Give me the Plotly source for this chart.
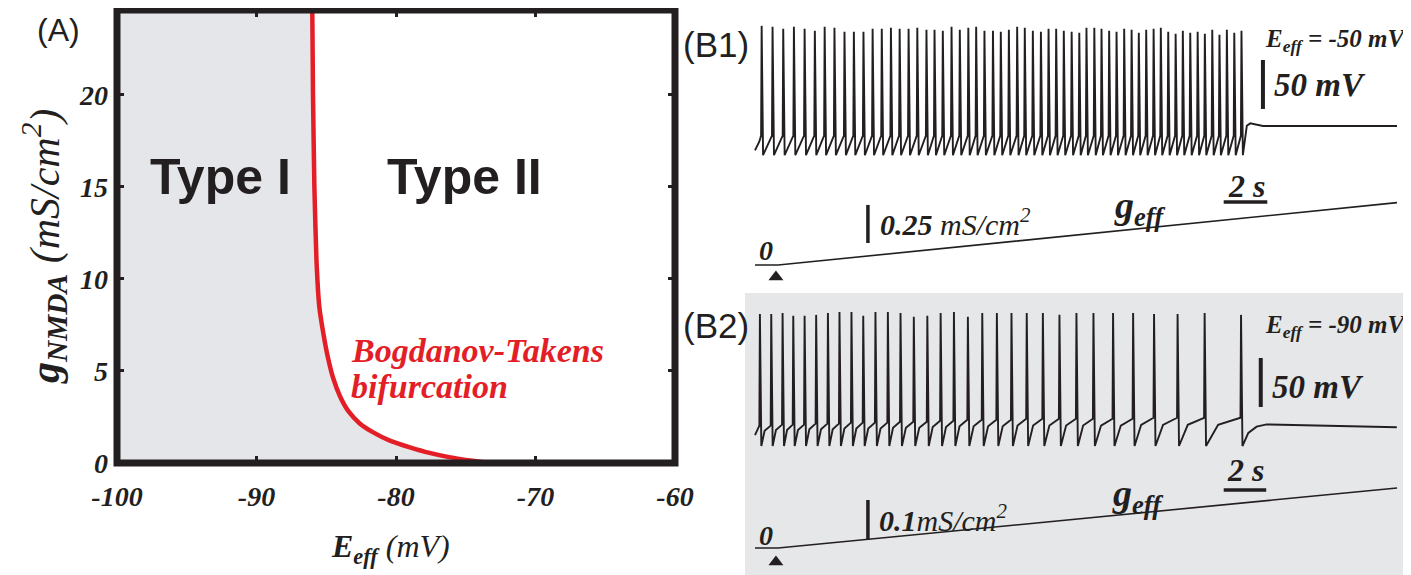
import plotly.graph_objects as go

# The page body has an 8 px default margin, so the figure is drawn 8 px in from the
# top-left corner; positions below are given in window pixels and converted.
OFF = 8
W, H = 1411 - OFF, 575 - OFF
def fx(p): return (p - OFF) / W
def fy(p): return 1 - (p - OFF) / H

# ---------------- Panel A data ----------------
bt_E = [-86.0, -85.95, -85.85, -85.7, -85.5, -85.2, -84.9, -84.5, -84.0, -83.4, -82.6, -81.6,
        -80.4, -79.0, -77.6, -76.2, -75.0, -74.0, -73.3]
bt_g = [24.6, 20.0, 15.0, 11.0, 8.5, 7.0, 5.8, 4.6, 3.6, 2.8, 2.15, 1.65,
        1.2, 0.85, 0.55, 0.32, 0.17, 0.07, 0.0]
E_ticks = [-100, -90, -80, -70, -60]
g_ticks = [0, 5, 10, 15, 20]
E_range = [-100, -60]
g_range = [0, 24.6]

# ---------------- Panel B1 data (Eeff = -50 mV) ----------------
b1_spike_t = [0.28, 0.78, 1.27, 1.76, 2.25, 2.72, 3.17, 3.62, 4.08, 4.51, 4.95, 5.37, 5.79, 6.21,
              6.61, 7.02, 7.42, 7.84, 8.21, 8.59, 8.99, 9.37, 9.76, 10.12, 10.50, 10.89, 11.25,
              11.62, 12.00, 12.35, 12.72, 13.09, 13.44, 13.79, 14.14, 14.50, 14.85, 15.18, 15.54,
              15.87, 16.22, 16.56, 16.91, 17.25, 17.58, 17.92, 18.26, 18.59, 18.93, 19.27, 19.60,
              19.94, 20.28, 20.61, 20.95, 21.28, 21.62, 21.96, 22.29]
b1_peak = [44, 43, 41, 43, 41, 39, 43, 42, 38, 38, 38, 41, 41, 42, 41, 41, 42,
           40, 40, 39, 43, 40, 42, 43, 39, 39, 38, 40, 43, 42, 39, 38, 41, 41, 39, 38, 37,
           42, 42, 41, 39, 38, 41, 40, 37, 40, 41, 42, 38, 36, 39, 37, 38, 36, 40, 35, 40, 37, 39]
b1_onset = [-68] * 59
b1_trough = -88
b1_start_t = [0.0, 0.2]
b1_start_v = [-83, -74]
b1_tail_t = [22.56, 22.72, 23.3, 29.45]
b1_tail_v = [-58, -55.5, -58.2, -58.2]
b1_ramp_t = [0, 1.06, 29.45]
b1_ramp_g = [0, 0, 0.41]

# ---------------- Panel B2 data (Eeff = -90 mV) ----------------
b2_spike_t = [0.20, 0.72, 1.24, 1.73, 2.25, 2.78, 3.32, 3.85, 4.40, 4.94, 5.50, 6.07, 6.65, 7.26,
              7.88, 8.49, 9.10, 9.74, 10.40, 11.07, 11.74, 12.44, 13.18, 13.94, 14.72, 15.50,
              16.40, 17.32, 18.28, 19.36, 20.60, 22.27]
b2_peak = [45, 45, 46, 43, 43, 44, 46, 47, 47, 43, 47, 47, 46, 42, 43, 46, 47, 42, 46, 46,
           46, 46, 46, 44, 46, 46, 46, 46, 45, 45, 46, 44]
b2_onset = [-69, -69, -68, -68, -68, -67, -67, -67, -66, -66, -66, -66, -65, -65, -65, -64,
            -64, -63, -63, -63, -63, -62, -62, -62, -62, -62, -62, -62, -61, -61, -61, -61]
b2_trough = -89.8
b2_start_t = [0.0, 0.15]
b2_start_v = [-78.6, -70.0]
b2_tail_t = [22.63, 23.01, 23.47, 25.0, 27.29, 29.44]
b2_tail_v = [-76.5, -70.1, -67.7, -68.4, -70.1, -70.7]
b2_ramp_t = [0, 1.06, 29.45]
b2_ramp_g = [0, 0, 0.15]

INK = '#231f20'
RED = '#e31e26'
GRAY = '#e4e6e9'


def spike_train(start_t, start_v, spikes, peaks, onsets, trough, tail_t, tail_v, knee=False):
    xs, ys = list(start_t), list(start_v)
    n = len(spikes)
    for i in range(n):
        t = spikes[i]
        xs += [t, t + 0.025, t + 0.09]
        ys += [onsets[i], peaks[i], trough]
        if knee and i < n - 1:
            isi = spikes[i + 1] - t - 0.09
            xs.append(t + 0.09 + 0.35 * isi)
            ys.append(trough + 0.75 * (onsets[i + 1] - trough))
    xs += tail_t
    ys += tail_v
    return xs, ys


fig = go.Figure()

# ---- Panel A ----
fig.add_trace(go.Scatter(x=bt_E + [E_range[0], E_range[0]], y=bt_g + [g_range[0], g_range[1]],
                         fill='toself', fillcolor=GRAY, line=dict(width=0, shape='spline', smoothing=0.5),
                         mode='lines', hoverinfo='skip', showlegend=False, xaxis='x', yaxis='y'))
fig.add_trace(go.Scatter(x=bt_E, y=bt_g, mode='lines',
                         line=dict(color=RED, width=4.5, shape='spline', smoothing=0.5),
                         showlegend=False, xaxis='x', yaxis='y'))

# ---- Panel B1 ----
x1, v1 = spike_train(b1_start_t, b1_start_v, b1_spike_t, b1_peak, b1_onset, b1_trough,
                     b1_tail_t, b1_tail_v)
fig.add_trace(go.Scatter(x=x1, y=v1, mode='lines', line=dict(color=INK, width=1.9),
                         showlegend=False, xaxis='x2', yaxis='y2'))
fig.add_trace(go.Scatter(x=b1_ramp_t, y=b1_ramp_g, mode='lines', line=dict(color=INK, width=1.6),
                         showlegend=False, xaxis='x2', yaxis='y4'))
fig.add_trace(go.Scatter(x=[23.3, 23.3], y=[-40.8, 9.2], mode='lines', line=dict(color=INK, width=4),
                         showlegend=False, xaxis='x2', yaxis='y2'))
fig.add_trace(go.Scatter(x=[5.18, 5.18], y=[0.145, 0.395], mode='lines', line=dict(color=INK, width=3.5),
                         showlegend=False, xaxis='x2', yaxis='y4'))
fig.add_trace(go.Scatter(x=[21.5, 23.5], y=[0.414, 0.414], mode='lines', line=dict(color=INK, width=3.5),
                         showlegend=False, xaxis='x2', yaxis='y4'))
fig.add_trace(go.Scatter(x=[0.96], y=[-0.079], mode='markers',
                         marker=dict(symbol='triangle-up', size=13, color=INK),
                         showlegend=False, xaxis='x2', yaxis='y4', cliponaxis=False))

# ---- Panel B2 ----
x2, v2 = spike_train(b2_start_t, b2_start_v, b2_spike_t, b2_peak, b2_onset, b2_trough,
                     b2_tail_t, b2_tail_v, knee=True)
fig.add_trace(go.Scatter(x=x2, y=v2, mode='lines', line=dict(color=INK, width=1.9),
                         showlegend=False, xaxis='x2', yaxis='y3'))
fig.add_trace(go.Scatter(x=b2_ramp_t, y=b2_ramp_g, mode='lines', line=dict(color=INK, width=1.6),
                         showlegend=False, xaxis='x2', yaxis='y5'))
fig.add_trace(go.Scatter(x=[23.2, 23.2], y=[-50, 0], mode='lines', line=dict(color=INK, width=4),
                         showlegend=False, xaxis='x2', yaxis='y3'))
fig.add_trace(go.Scatter(x=[5.18, 5.18], y=[0.02, 0.12], mode='lines', line=dict(color=INK, width=3.5),
                         showlegend=False, xaxis='x2', yaxis='y5'))
fig.add_trace(go.Scatter(x=[21.5, 23.45], y=[0.145, 0.145], mode='lines', line=dict(color=INK, width=3.5),
                         showlegend=False, xaxis='x2', yaxis='y5'))
fig.add_trace(go.Scatter(x=[0.96], y=[-0.035], mode='markers',
                         marker=dict(symbol='triangle-up', size=13, color=INK),
                         showlegend=False, xaxis='x2', yaxis='y5', cliponaxis=False))

tickfont = dict(family='Liberation Serif', size=28, weight='bold', style='italic', color=INK)
hidden = dict(visible=False, showgrid=False, zeroline=False, fixedrange=True, automargin=False)

# time axis: 21.8 px per second, t=0 at window x=755
t_lo = (745 - 755) / 21.8
t_hi = (1411 - 755) / 21.8

fig.update_layout(
    width=W, height=H, autosize=False,
    margin=dict(l=0, r=0, t=0, b=0, pad=0),
    paper_bgcolor='white', plot_bgcolor='rgba(0,0,0,0)',
    xaxis=dict(domain=[fx(117), fx(675)], range=E_range, tickvals=E_ticks,
               ticktext=[str(v) for v in E_ticks], ticks='inside', ticklen=7, tickwidth=3,
               tickcolor=INK, mirror='ticks', showgrid=False, zeroline=False, showline=False,
               tickfont=tickfont, ticklabelstandoff=14, anchor='y', automargin=False),
    yaxis=dict(domain=[fy(463), fy(10)], range=g_range, tickvals=g_ticks,
               ticktext=[str(v) for v in g_ticks], ticks='inside', ticklen=7, tickwidth=3,
               tickcolor=INK, mirror='ticks', showgrid=False, zeroline=False, showline=False,
               tickfont=tickfont, ticklabelstandoff=8, anchor='x', automargin=False),
    xaxis2=dict(domain=[fx(745), 1], range=[t_lo, t_hi], anchor='y2', **hidden),
    yaxis2=dict(domain=[fy(175), fy(15)], range=[-108.2, 55.1], anchor='x2', **hidden),
    yaxis4=dict(domain=[fy(290), fy(180)], range=[-0.164, 0.559], anchor='x2', **hidden),
    yaxis3=dict(domain=[fy(460), fy(300)], range=[-104.08, 59.18], anchor='x2', **hidden),
    yaxis5=dict(domain=[0, fy(465)], range=[-0.0675, 0.2075], anchor='x2', **hidden),
)

shapes = [
    dict(type='rect', xref='paper', yref='paper', x0=fx(745), x1=1, y0=0, y1=fy(293),
         fillcolor='#e6e7e9', line=dict(width=0), layer='below'),
    dict(type='rect', xref='x domain', yref='y domain', x0=0, x1=1, y0=0, y1=1,
         line=dict(color=INK, width=7), layer='above'),
]
fig.update_layout(shapes=shapes)


def ann(text, x, y, size, family='Liberation Serif', xanchor='center', color=INK,
        weight='normal', style='normal', angle=0):
    fig.add_annotation(text=text, x=fx(x), y=fy(y), xref='paper', yref='paper',
                       xanchor=xanchor, yanchor='middle', showarrow=False, textangle=angle,
                       font=dict(family=family, size=size, color=color, weight=weight, style=style))

SANS = 'Liberation Sans'
# Panel A texts
ann('(A)', 58, 30, 32, family=SANS)
ann('Type I', 220, 177, 50, family=SANS, weight='bold')
ann('Type II', 464, 177, 50, family=SANS, weight='bold')
ann('Bogdanov-Takens', 349, 350, 34, xanchor='left', color=RED, weight='bold', style='italic')
ann('bifurcation', 349, 386, 34, xanchor='left', color=RED, weight='bold', style='italic')
ann('<b>E<sub>eff</sub></b> (mV)', 390, 548, 32, style='italic')
ann('<b>g<sub>NMDA</sub></b> (mS/cm<sup>2</sup>)', 44, 247, 42, style='italic', angle=-90)

# Panel B1 texts
ann('(B1)', 716, 45, 35, family=SANS)
ann('E<sub>eff</sub> = -50 mV', 1263, 40, 25, xanchor='left', weight='bold', style='italic')
ann('50 mV', 1272, 85, 33, xanchor='left', weight='bold', style='italic')
ann('2 s', 1246, 186, 32, weight='bold', style='italic')
ann('0', 766, 250, 28, weight='bold', style='italic')
ann('<b>0.25</b> mS/cm<sup>2</sup>', 878, 222, 30, xanchor='left', style='italic')
ann('g<sub>eff</sub>', 1112, 208, 38, xanchor='left', weight='bold', style='italic')

# Panel B2 texts
ann('(B2)', 716, 325, 35, family=SANS)
ann('E<sub>eff</sub> = -90 mV', 1263, 326, 25, xanchor='left', weight='bold', style='italic')
ann('50 mV', 1270, 387, 33, xanchor='left', weight='bold', style='italic')
ann('2 s', 1245, 470, 32, weight='bold', style='italic')
ann('0', 766, 535, 28, weight='bold', style='italic')
ann('<b>0.1</b>mS/cm<sup>2</sup>', 877, 518, 30, xanchor='left', style='italic')
ann('g<sub>eff</sub>', 1110, 496, 38, xanchor='left', weight='bold', style='italic')

fig.write_html('out.html')
